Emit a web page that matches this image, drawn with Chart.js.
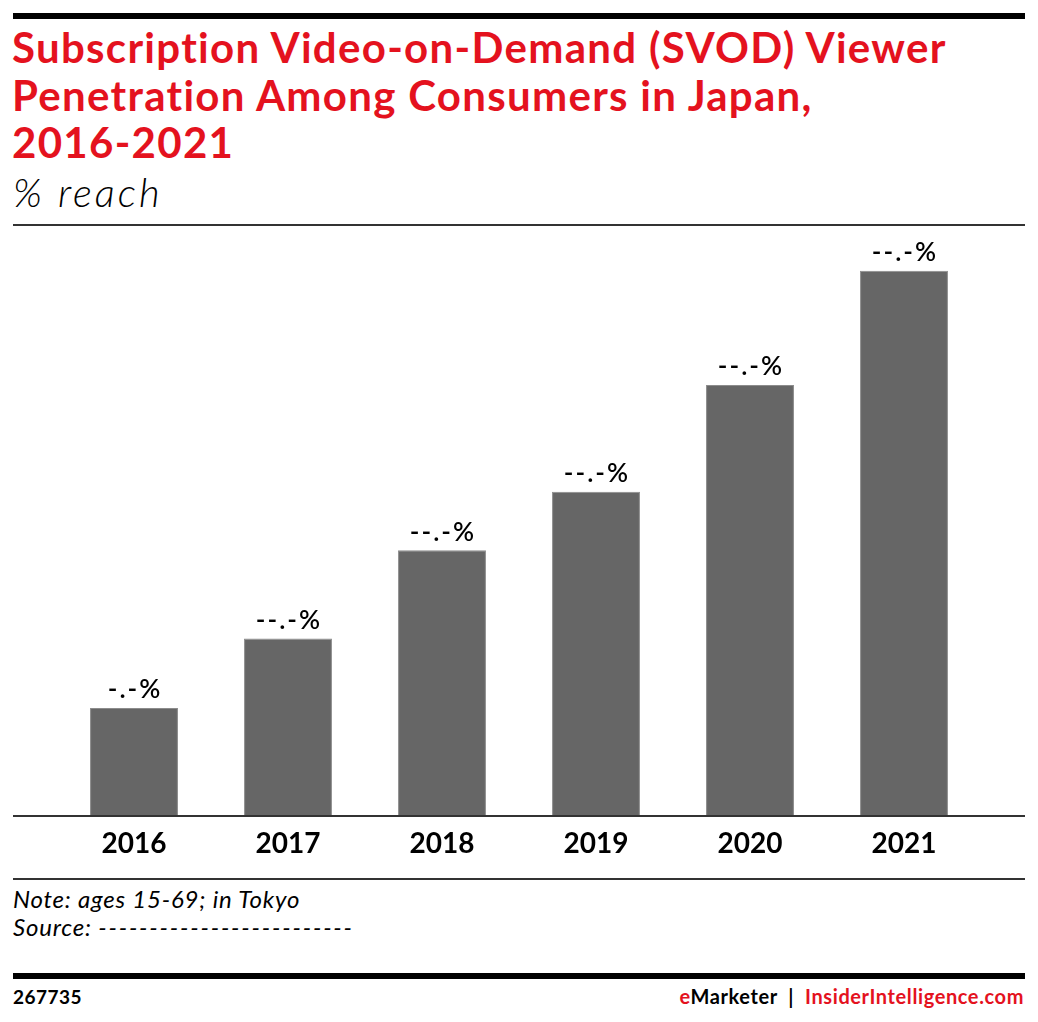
<!DOCTYPE html>
<html>
<head>
<meta charset="utf-8">
<script src="https://cdn.jsdelivr.net/npm/chart.js@4.4.1/dist/chart.umd.min.js"></script>
<style>
  html, body { margin: 0; padding: 0; background: #fff; }
  body { width: 1038px; height: 1022px; position: relative; overflow: hidden; font-family: Lato, "Open Sans", sans-serif; }
  .rule { position: absolute; left: 13px; width: 1012px; background: #000; }
  #title { position: absolute; left: 12px; top: 24px; color: #e4121e; font-weight: 700; font-size: 42px; line-height: 47.5px; letter-spacing: 1.3px; white-space: nowrap; }
  #subtitle { position: absolute; left: 13px; top: 168px; font-style: italic; font-weight: 300; font-size: 40px; letter-spacing: 3px; color: #000; }
  #chartBox { position: absolute; left: 0; top: 226px; width: 1038px; height: 652px; }
  .note { position: absolute; left: 13px; font-style: italic; font-size: 24px; letter-spacing: 0.8px; color: #000; }
  .dashes { letter-spacing: 1.8px; }
  #footId { position: absolute; left: 13px; top: 985px; font-weight: 700; font-size: 19px; letter-spacing: 0.5px; }
  #footBrand { position: absolute; right: 14px; top: 984px; font-weight: 700; font-size: 20px; letter-spacing: 0.6px; }
  .red { color: #e4121e; }
</style>
</head>
<body>
<div class="rule" style="top:13px;height:6px;"></div>
<div id="title">Subscription Video-on-Demand (SVOD) Viewer<br>Penetration Among Consumers in Japan,<br>2016-2021</div>
<div id="subtitle">% reach</div>
<div class="rule" style="top:224px;height:2px;background:#333;"></div>
<div id="chartBox"><canvas id="chart"></canvas></div>
<div class="rule" style="top:878px;height:2px;background:#333;"></div>
<div class="note" style="top:884px;">Note: ages 15-69; in Tokyo</div>
<div class="note" style="top:912px;">Source: <span class="dashes">-------------------------</span></div>
<div class="rule" style="top:973px;height:6px;"></div>
<div id="footId">267735</div>
<div id="footBrand"><span class="red">e</span>Marketer &nbsp;|&nbsp; <span class="red">InsiderIntelligence.com</span></div>

<script>
// chart data
const years = ["2016", "2017", "2018", "2019", "2020", "2021"];
const reach = [7.0, 11.5, 17.2, 21.0, 27.9, 35.3];
const valueLabels = ["-.-%", "--.-%", "--.-%", "--.-%", "--.-%", "--.-%"];

// draws the value label over each bar and the baseline
const barLabels = {
    id: 'barLabels',
    afterDatasetsDraw(chart) {
        const ctx = chart.ctx;
        const meta = chart.getDatasetMeta(0);
        ctx.save();
        ctx.font = '600 26px Lato, sans-serif';
        ctx.letterSpacing = '2px';
        ctx.fillStyle = '#000';
        ctx.textAlign = 'center';
        ctx.textBaseline = 'bottom';
        meta.data.forEach(function (bar, i) {
            ctx.fillText(valueLabels[i], bar.x + 1, bar.y - 5);
        });
        // baseline
        const y = chart.scales.y.getPixelForValue(0);
        ctx.fillStyle = '#333';
        ctx.fillRect(13, y - 1, 1012, 2);
        ctx.restore();
    }
};

const ctx = document.getElementById("chart").getContext("2d");
new Chart(ctx, {
    type: 'bar',
    data: {
        labels: years,
        datasets: [{
            data: reach,
            backgroundColor: '#666666',
            borderColor: '#8c8c8c',
            borderWidth: 1,
            categoryPercentage: 1.0,
            barPercentage: 0.571
        }]
    },
    options: {
        responsive: true,
        maintainAspectRatio: false,
        animation: false,
        layout: { padding: { left: 57, right: 57, top: 0, bottom: 0 } },
        plugins: {
            legend: { display: false },
            tooltip: { enabled: false }
        },
        scales: {
            x: {
                grid: { display: false, drawTicks: false },
                border: { display: false },
                ticks: {
                    padding: 11,
                    color: '#000',
                    font: { family: 'Lato, sans-serif', size: 28, weight: 'bold' }
                },
                afterFit: function (axis) { axis.height = 62; }
            },
            y: {
                display: false,
                min: 0,
                max: 38.2
            }
        }
    },
    plugins: [barLabels]
});
</script>
</body>
</html>
